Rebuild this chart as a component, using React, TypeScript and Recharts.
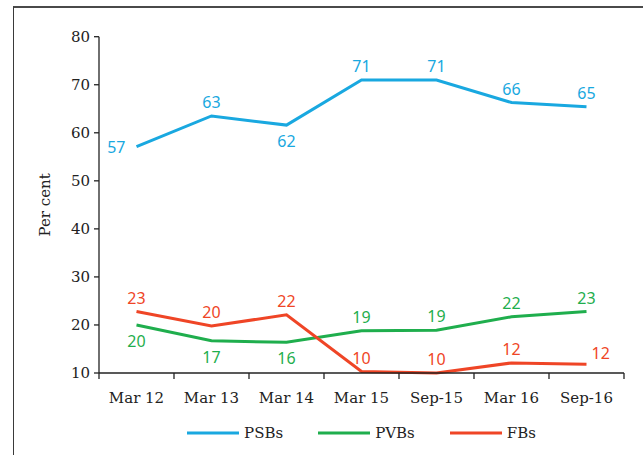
import React from 'react';
import { LineChart, Line, XAxis, YAxis, LabelList, Label } from 'recharts';

const categories = ['Mar 12', 'Mar 13', 'Mar 14', 'Mar 15', 'Sep-15', 'Mar 16', 'Sep-16'];
const psbValues = [57.1, 63.5, 61.6, 71.0, 71.0, 66.3, 65.4];
const pvbValues = [20.0, 16.7, 16.4, 18.8, 18.9, 21.7, 22.8];
const fbValues = [22.8, 19.8, 22.1, 10.3, 10.0, 12.1, 11.8];
const psbLabels = ['57', '63', '62', '71', '71', '66', '65'];
const pvbLabels = ['20', '17', '16', '19', '19', '22', '23'];
const fbLabels = ['23', '20', '22', '10', '10', '12', '12'];
const yTicks = [10, 20, 30, 40, 50, 60, 70, 80];
const seriesNames = ['PSBs', 'PVBs', 'FBs'];

// label placement (style, not data)
const psbPlace = ['left', 'top', 'bottom', 'top', 'top', 'top', 'top'];
const pvbPlace = ['bottom', 'bottom', 'bottom', 'top', 'top', 'top', 'top'];
const fbPlace = ['top', 'top', 'top', 'top', 'top', 'top', 'right'];

const COLORS = ['#19a8e0', '#1fae4d', '#ef4526'];
const W = 643;
const H = 455;
const MARGIN = { top: 36.7, right: 19, bottom: 0, left: 0 };
const Y_AXIS_W = 99;
const X_AXIS_H = 82;
const BAND = (W - MARGIN.left - MARGIN.right - Y_AXIS_W) / categories.length;
const AXIS_FONT = '"DejaVu Serif", serif';
const LABEL_FONT = '"Noto Sans", sans-serif';

const data = categories.map((name, i) => ({
  name,
  psb: psbValues[i],
  pvb: pvbValues[i],
  fb: fbValues[i],
  psbL: psbLabels[i],
  pvbL: pvbLabels[i],
  fbL: fbLabels[i],
}));

const makeLabel = (place: string[], color: string) => (props: any) => {
  const { x, y, index, value } = props;
  const p = place[index];
  let tx = x;
  let ty = y - 8;
  let anchor: any = 'middle';
  if (p === 'bottom') {
    ty = y + 22;
  } else if (p === 'left') {
    tx = x - 11;
    ty = y + 6;
    anchor = 'end';
  } else if (p === 'right') {
    tx = x + 5;
    ty = y - 5;
    anchor = 'start';
  }
  return (
    <text x={tx} y={ty} textAnchor={anchor} fill={color} fontSize={16} fontFamily={LABEL_FONT}>
      {value}
    </text>
  );
};

const XTick = (props: any) => {
  const { x, y, payload, index } = props;
  const axisY = y - 8;
  const half = BAND / 2;
  return (
    <g>
      <line x1={x - half} x2={x - half} y1={axisY} y2={axisY + 6} stroke="#222" strokeWidth={1.3} />
      {index === categories.length - 1 && (
        <line x1={x + half} x2={x + half} y1={axisY} y2={axisY + 6} stroke="#222" strokeWidth={1.3} />
      )}
      <text x={x} y={axisY + 30} textAnchor="middle" fill="#222" fontSize={15} fontFamily={AXIS_FONT}>
        {payload.value}
      </text>
    </g>
  );
};

const YLabel = (props: any) => {
  const vb = props.viewBox || {};
  const cy = (vb.y ?? MARGIN.top) + (vb.height ?? 336) / 2;
  const bx = 50;
  return (
    <text
      x={bx}
      y={cy}
      textAnchor="middle"
      transform={`rotate(-90, ${bx}, ${cy})`}
      fill="#222"
      fontSize={15}
      fontFamily={AXIS_FONT}
    >
      Per cent
    </text>
  );
};

export default function App() {
  return (
    <div style={{ position: 'absolute', left: 0, top: 0, width: W, height: H, overflow: 'hidden', background: '#fff' }}>
      <div
        style={{
          position: 'absolute',
          left: 12.5,
          top: 6.3,
          width: 800,
          height: 600,
          borderLeft: '1.5px solid #3a3a3a',
          borderTop: '2px solid #4a4a4a',
        }}
      />
      <div style={{ position: 'absolute', left: 0, top: 0 }}>
        <LineChart width={W} height={H} data={data} margin={MARGIN}>
          <XAxis
            dataKey="name"
            scale="band"
            interval={0}
            tickLine={false}
            tickSize={6}
            tickMargin={2}
            height={X_AXIS_H}
            axisLine={{ stroke: '#222', strokeWidth: 1.3 }}
            tick={<XTick />}
          />
          <YAxis
            type="number"
            domain={[10, 80]}
            ticks={yTicks}
            interval={0}
            width={Y_AXIS_W}
            tickSize={5}
            tickMargin={4}
            axisLine={{ stroke: '#222', strokeWidth: 1.3 }}
            tickLine={{ stroke: '#222', strokeWidth: 1.3 }}
            tick={{ fill: '#222', fontSize: 15, fontFamily: AXIS_FONT }}
          >
            <Label content={<YLabel />} />
          </YAxis>
          <Line
            dataKey="psb"
            name={seriesNames[0]}
            stroke={COLORS[0]}
            strokeWidth={3}
            dot={false}
            activeDot={false}
            isAnimationActive={false}
          >
            <LabelList dataKey="psbL" content={makeLabel(psbPlace, COLORS[0])} />
          </Line>
          <Line
            dataKey="pvb"
            name={seriesNames[1]}
            stroke={COLORS[1]}
            strokeWidth={3}
            dot={false}
            activeDot={false}
            isAnimationActive={false}
          >
            <LabelList dataKey="pvbL" content={makeLabel(pvbPlace, COLORS[1])} />
          </Line>
          <Line
            dataKey="fb"
            name={seriesNames[2]}
            stroke={COLORS[2]}
            strokeWidth={3}
            dot={false}
            activeDot={false}
            isAnimationActive={false}
          >
            <LabelList dataKey="fbL" content={makeLabel(fbPlace, COLORS[2])} />
          </Line>
        </LineChart>
      </div>
      <div
        style={{
          position: 'absolute',
          left: Y_AXIS_W,
          width: W - Y_AXIS_W - MARGIN.right,
          top: 422,
          height: 22,
          display: 'flex',
          justifyContent: 'center',
          alignItems: 'center',
          gap: 35,
          fontFamily: AXIS_FONT,
          fontSize: 15,
          color: '#222',
        }}
      >
        {seriesNames.map((n, i) => (
          <div key={n} style={{ display: 'flex', alignItems: 'center', gap: 5 }}>
            <svg width={52} height={6}>
              <line x1={0} x2={52} y1={3} y2={3} stroke={COLORS[i]} strokeWidth={3} />
            </svg>
            <span>{n}</span>
          </div>
        ))}
      </div>
    </div>
  );
}
